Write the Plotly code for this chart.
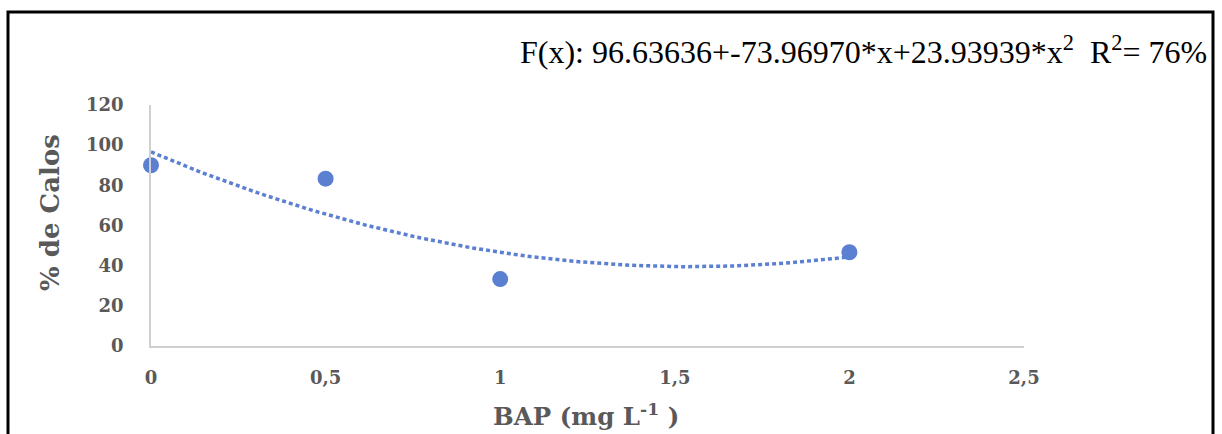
import numpy as np
import plotly.graph_objects as go

# Data
bap = [0, 0.5, 1, 2]
calos = [90, 83.33, 33.33, 46.67]
x_ticks = [0, 0.5, 1, 1.5, 2, 2.5]
x_ticklabels = ["0", "0,5", "1", "1,5", "2", "2,5"]
y_ticks = [0, 20, 40, 60, 80, 100, 120]
equation = "F(x): 96.63636+-73.96970*x+23.93939*x<sup>2</sup>  R<sup>2</sup>= 76%"

# Quadratic trendline fitted to the data
coef = np.polyfit(bap, calos, 2)
xs = np.linspace(0, 2, 120)
ys = np.polyval(coef, xs)

BLUE = "#5B7FD1"
GRAY = "#595959"

# pixel geometry of plot area
L, R, T, B = 151, 1024, 105, 346
W, H = 1222, 434

def px_x(p):
    return (p - L) / (R - L)

def px_y(q):
    return (B - q) / (B - T)

fig = go.Figure()
fig.add_trace(go.Scatter(
    x=xs, y=ys, mode="lines",
    line=dict(color=BLUE, width=3.5, dash="4px,3px"),
    hoverinfo="skip", showlegend=False,
))
fig.add_trace(go.Scatter(
    x=bap, y=calos, mode="markers",
    marker=dict(color=BLUE, size=16),
    cliponaxis=False, showlegend=False,
))

tickfont = dict(family="DejaVu Serif", size=18, color=GRAY, weight="bold")

fig.update_layout(
    width=W, height=H,
    margin=dict(l=L, r=W - R, t=T, b=H - B),
    paper_bgcolor="white", plot_bgcolor="white",
    xaxis=dict(
        range=[0, 2.5], tickvals=x_ticks, ticktext=x_ticklabels,
        showgrid=False, zeroline=False, showline=True,
        linecolor="#D0D0D0", linewidth=1.5, ticks="",
        tickfont=tickfont, ticklabelstandoff=15,
    ),
    yaxis=dict(
        range=[0, 120], tickvals=y_ticks,
        showgrid=False, zeroline=False, showline=True,
        linecolor="#D0D0D0", linewidth=1.5, ticks="",
        tickfont=tickfont, ticklabelstandoff=22,
    ),
    shapes=[dict(
        type="rect", xref="paper", yref="paper",
        x0=px_x(8), x1=px_x(1213), y0=px_y(445), y1=px_y(12),
        line=dict(color="black", width=3), fillcolor="rgba(0,0,0,0)",
        layer="above",
    )],
    annotations=[
        dict(text=equation, xref="paper", yref="paper",
             x=px_x(1209), y=px_y(50), xanchor="right", yanchor="middle",
             showarrow=False,
             font=dict(family="Liberation Serif", size=32, color="black")),
        dict(text="BAP (mg L<sup>-1</sup> )", xref="paper", yref="paper",
             x=px_x(586), y=px_y(415), xanchor="center", yanchor="middle",
             showarrow=False,
             font=dict(family="DejaVu Serif", size=24.5, color=GRAY, weight="bold")),
        dict(text="% de Calos", xref="paper", yref="paper",
             x=px_x(50), y=px_y(213), xanchor="center", yanchor="middle",
             textangle=-90, showarrow=False,
             font=dict(family="DejaVu Serif", size=26, color=GRAY, weight="bold")),
    ],
)

fig.write_html("out.html")
